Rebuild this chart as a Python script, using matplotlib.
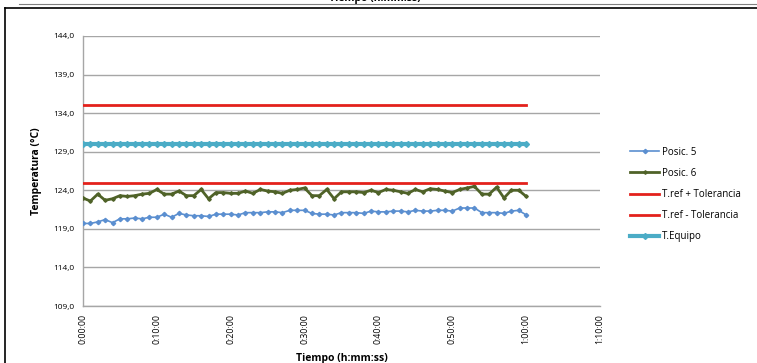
import matplotlib
matplotlib.use("Agg")
import matplotlib.pyplot as plt
from matplotlib.lines import Line2D
import numpy as np

plt.rcParams['font.family'] = ['Open Sans', 'DejaVu Sans']

minutes = list(range(0, 61))
posic5 = [119.7, 119.7, 119.9, 120.2, 119.8, 120.3, 120.3, 120.4, 120.3, 120.5, 120.5,
          120.9, 120.5, 121.0, 120.8, 120.7, 120.7, 120.6, 120.9, 120.9, 120.9,
          120.8, 121.1, 121.1, 121.1, 121.2, 121.2, 121.1, 121.4, 121.4, 121.4,
          121.0, 120.9, 120.9, 120.8, 121.1, 121.1, 121.1, 121.0, 121.3, 121.2,
          121.2, 121.3, 121.3, 121.2, 121.4, 121.3, 121.3, 121.4, 121.4, 121.3,
          121.7, 121.7, 121.7, 121.1, 121.1, 121.1, 121.0, 121.3, 121.4, 120.8]
posic6 = [123.0, 122.6, 123.5, 122.7, 122.9, 123.3, 123.2, 123.3, 123.5, 123.6, 124.1,
          123.5, 123.5, 123.9, 123.3, 123.3, 124.1, 122.9, 123.7, 123.7, 123.6,
          123.6, 123.9, 123.6, 124.1, 123.9, 123.8, 123.6, 124.0, 124.1, 124.3,
          123.3, 123.3, 124.1, 122.9, 123.8, 123.8, 123.8, 123.7, 124.0, 123.7,
          124.1, 124.0, 123.8, 123.6, 124.1, 123.8, 124.2, 124.1, 123.9, 123.7,
          124.1, 124.3, 124.5, 123.5, 123.5, 124.4, 123.0, 124.0, 124.0, 123.2]
tref_plus = 135.0
tref_minus = 125.0
t_equipo = 130.0

y_ticks = [109, 114, 119, 124, 129, 134, 139, 144]
x_ticks = [0, 10, 20, 30, 40, 50, 60, 70]
x_tick_labels = ["0:00:00", "0:10:00", "0:20:00", "0:30:00", "0:40:00", "0:50:00", "1:00:00", "1:10:00"]

fig = plt.figure(figsize=(7.57, 3.63), dpi=100)
ax = fig.add_axes([0.1096, 0.157, 0.683, 0.744])

c5 = '#5b8fd0'
c6 = '#4f6228'
cred = '#e3211c'
ccy = '#4bacc6'

ax.plot(minutes, posic5, color=c5, lw=1.2, marker='D', ms=2.2, label='Posic. 5', zorder=3)
ax.plot(minutes, posic6, color=c6, lw=2.0, marker='D', ms=1.8, label='Posic. 6', zorder=3)
ax.plot(minutes, [tref_plus] * len(minutes), color=cred, lw=2.0, label='T.ref + Tolerancia', zorder=3)
ax.plot(minutes, [tref_minus] * len(minutes), color=cred, lw=2.0, label='T.ref - Tolerancia', zorder=3)
ax.plot(minutes, [t_equipo] * len(minutes), color=ccy, lw=3.0, marker='D', ms=3, label='T.Equipo', zorder=3)

ax.set_xlim(0, 70)
ax.set_ylim(109, 144)
ax.set_yticks(y_ticks)
ax.set_yticklabels([f"{v:.1f}".replace('.', ',') for v in y_ticks], fontsize=6)
ax.set_xticks(x_ticks)
ax.set_xticklabels(x_tick_labels, rotation=90, fontsize=6.3)
ax.tick_params(length=0, pad=6)
ax.grid(axis='y', color='#a6a6a6', lw=1.0)
ax.set_axisbelow(True)
for s in ['top', 'right']:
    ax.spines[s].set_visible(False)
for s in ['left', 'bottom']:
    ax.spines[s].set_color('#a6a6a6')
    ax.spines[s].set_linewidth(1.0)

ax.set_ylabel('Temperatura (°C)', fontsize=7.5, fontweight='bold', labelpad=8)
ax.set_xlabel('Tiempo (h:mm:ss)', fontsize=7.5, fontweight='bold', labelpad=6)

leg = ax.legend(loc='center left', bbox_to_anchor=(0.821, 0.464),
                bbox_transform=fig.transFigure, frameon=False,
                fontsize=7, handlelength=3.0, handletextpad=0.3, labelspacing=1.05)

# outer chart border and remnant of the chart above
fig.add_artist(Line2D([0.0066, 0.0066], [0.0, 0.978], color='black', lw=1.2, transform=fig.transFigure))
fig.add_artist(Line2D([0.0066, 1.0], [0.978, 0.978], color='black', lw=1.2, transform=fig.transFigure))
fig.add_artist(Line2D([0.025, 1.0], [0.988, 0.988], color='#808080', lw=0.8, transform=fig.transFigure))
fig.text(0.495, 1.005, 'Tiempo (h:mm:ss)', ha='center', va='center', fontsize=7.5, fontweight='bold')

fig.savefig('out.png', dpi=100)
